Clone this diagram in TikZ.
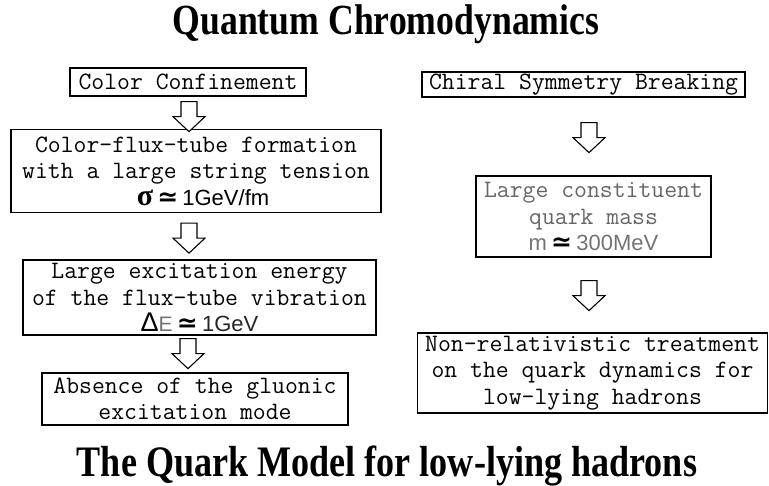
\documentclass[tikz,border=0pt]{standalone}
\usepackage{fontspec}
\setmainfont{Liberation Serif}
\newfontfamily\titlefont{Liberation Serif}[FakeStretch=0.83]
\newfontfamily\sansfont{Liberation Sans}
\newfontfamily\symbfont{DejaVu Sans}
\newcommand\apx{{\symbfont\bfseries\fontsize{25}{25}\selectfont ≃}}
\begin{document}
\begin{tikzpicture}[x=1pt,y=-1pt,
  box/.style={draw, line width=1.3pt, inner sep=0pt, align=center,
    font=\ttfamily\fontsize{25}{26.5}\selectfont},
  ttl/.style={anchor=base, inner sep=0pt, font=\titlefont\bfseries\fontsize{43}{43}\selectfont},
  hollow/.pic={\draw[line width=1.1pt, fill=white] (-8,0) -- (8,0) -- (8,15) -- (16,15) -- (0,30) -- (-16,15) -- (-8,15) -- cycle;}
]
\useasboundingbox (0,0) rectangle (769,486);

\node[ttl] (t1) at (386,35) {Quantum Chromodynamics};
\node[ttl, font=\titlefont\bfseries\fontsize{43.5}{43.5}\selectfont] (t2) at (387,476) {The Quark Model for low-lying hadrons};

% left column
\node[box, minimum width=236, minimum height=28] (b1) at (188,82) {Color Confinement};
\node[box, minimum width=370, minimum height=83] (b2) at (196,171)
  {Color-flux-tube formation\\with a large string tension\\
   \hspace*{14pt}{\rmfamily\fontsize{30}{26}\selectfont\bfseries σ}\,\apx\,{\sansfont\fontsize{22}{22}\selectfont 1GeV/fm}};
\node[box, minimum width=353, minimum height=75] (b3) at (199.5,297.5)
  {Large excitation energy\\of the flux-tube vibration\\
   {\sansfont\fontsize{27}{26}\selectfont Δ}{\sansfont\color{black!55}\fontsize{21}{21}\selectfont E}\,\apx\,{\sansfont\color{black!85}\fontsize{22}{22}\selectfont 1GeV}};
\node[box, minimum width=306, minimum height=52] (b4) at (195,399)
  {Absence of the gluonic\\excitation mode};

% right column
\node[box, minimum width=323, minimum height=25] (c1) at (583.5,84.5) {Chiral Symmetry Breaking};
\node[box, minimum width=235, minimum height=81] (c2) at (593.5,216.5)
  {\color{black!60}Large constituent\\\color{black!60}quark mass\\
   {\sansfont\color{black!55}\fontsize{22}{22}\selectfont m}\,\apx\,{\sansfont\color{black!55}\fontsize{22}{22}\selectfont 300MeV}};
\node[box, minimum width=350, minimum height=80] (c3) at (592.5,373)
  {Non-relativistic treatment\\on the quark dynamics for\\low-lying hadrons};

% arrows
\path (b1.south) ++(1,5) pic {hollow};
\path (b2.south) ++(-7,10) pic {hollow};
\path (b3.south) ++(-11.5,3) pic {hollow};
\path (c1.south) ++(5.5,25) pic {hollow};
\path (c2.south) ++(-4.5,23) pic {hollow};
\end{tikzpicture}
\end{document}
